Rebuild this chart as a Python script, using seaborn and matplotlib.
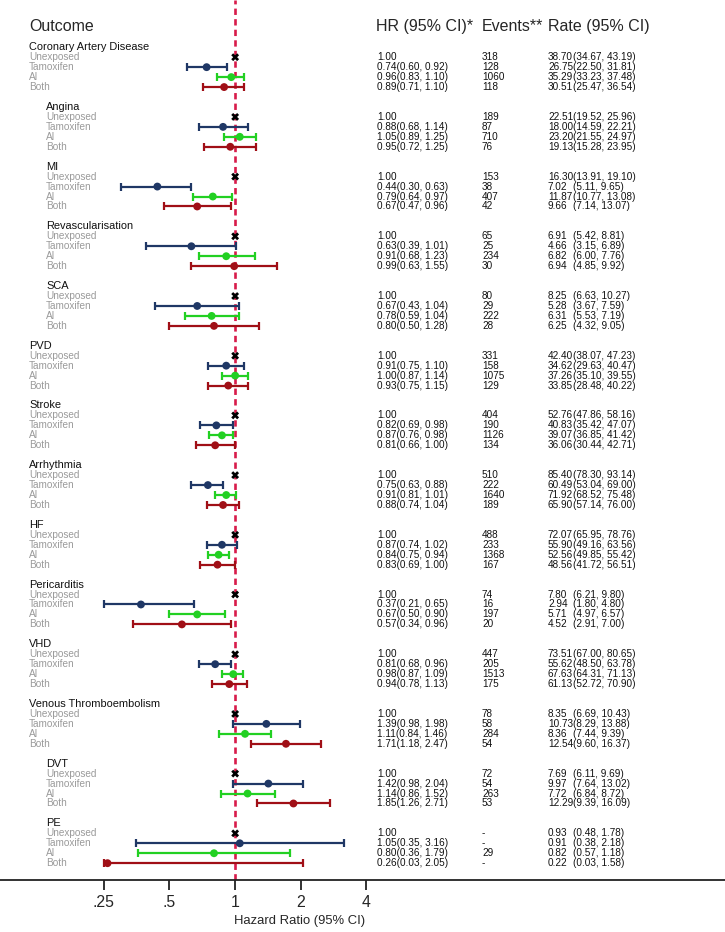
import numpy as np
import pandas as pd
import matplotlib
matplotlib.use("Agg")
import matplotlib.pyplot as plt
import matplotlib.transforms as mtransforms
from matplotlib.ticker import NullLocator
import seaborn as sns

# ---- data ----
outcomes = ["Coronary Artery Disease", "Angina", "MI", "Revascularisation", "SCA",
            "PVD", "Stroke", "Arrhythmia", "HF", "Pericarditis", "VHD",
            "Venous Thromboembolism", "DVT", "PE"]
indent = [0, 1, 1, 1, 1, 0, 0, 0, 0, 0, 0, 0, 1, 1]
exposures = ["Unexposed", "Tamoxifen", "AI", "Both"]

tam_hr = [0.74, 0.88, 0.44, 0.63, 0.67, 0.91, 0.82, 0.75, 0.87, 0.37, 0.81, 1.39, 1.42, 1.05]
tam_lo = [0.60, 0.68, 0.30, 0.39, 0.43, 0.75, 0.69, 0.63, 0.74, 0.21, 0.68, 0.98, 0.98, 0.35]
tam_hi = [0.92, 1.14, 0.63, 1.01, 1.04, 1.10, 0.98, 0.88, 1.02, 0.65, 0.96, 1.98, 2.04, 3.16]

ai_hr = [0.96, 1.05, 0.79, 0.91, 0.78, 1.00, 0.87, 0.91, 0.84, 0.67, 0.98, 1.11, 1.14, 0.80]
ai_lo = [0.83, 0.89, 0.64, 0.68, 0.59, 0.87, 0.76, 0.81, 0.75, 0.50, 0.87, 0.84, 0.86, 0.36]
ai_hi = [1.10, 1.25, 0.97, 1.23, 1.04, 1.14, 0.98, 1.01, 0.94, 0.90, 1.09, 1.46, 1.52, 1.79]

both_hr = [0.89, 0.95, 0.67, 0.99, 0.80, 0.93, 0.81, 0.88, 0.83, 0.57, 0.94, 1.71, 1.85, 0.26]
both_lo = [0.71, 0.72, 0.47, 0.63, 0.50, 0.75, 0.66, 0.74, 0.69, 0.34, 0.78, 1.18, 1.26, 0.03]
both_hi = [1.10, 1.25, 0.96, 1.55, 1.28, 1.15, 1.00, 1.04, 1.00, 0.96, 1.13, 2.47, 2.71, 2.05]

events_unexposed = ["318", "189", "153", "65", "80", "331", "404", "510", "488", "74", "447", "78", "72", "-"]
events_tam = ["128", "87", "38", "25", "29", "158", "190", "222", "233", "16", "205", "58", "54", "-"]
events_ai = ["1060", "710", "407", "234", "222", "1075", "1126", "1640", "1368", "197", "1513", "284", "263", "29"]
events_both = ["118", "76", "42", "30", "28", "129", "134", "189", "167", "20", "175", "54", "53", "-"]

rate_unexposed = [(38.70, 34.67, 43.19), (22.51, 19.52, 25.96), (16.30, 13.91, 19.10),
                  (6.91, 5.42, 8.81), (8.25, 6.63, 10.27), (42.40, 38.07, 47.23),
                  (52.76, 47.86, 58.16), (85.40, 78.30, 93.14), (72.07, 65.95, 78.76),
                  (7.80, 6.21, 9.80), (73.51, 67.00, 80.65), (8.35, 6.69, 10.43),
                  (7.69, 6.11, 9.69), (0.93, 0.48, 1.78)]
rate_tam = [(26.75, 22.50, 31.81), (18.00, 14.59, 22.21), (7.02, 5.11, 9.65),
            (4.66, 3.15, 6.89), (5.28, 3.67, 7.59), (34.62, 29.63, 40.47),
            (40.83, 35.42, 47.07), (60.49, 53.04, 69.00), (55.90, 49.16, 63.56),
            (2.94, 1.80, 4.80), (55.62, 48.50, 63.78), (10.73, 8.29, 13.88),
            (9.97, 7.64, 13.02), (0.91, 0.38, 2.18)]
rate_ai = [(35.29, 33.23, 37.48), (23.20, 21.55, 24.97), (11.87, 10.77, 13.08),
           (6.82, 6.00, 7.76), (6.31, 5.53, 7.19), (37.26, 35.10, 39.55),
           (39.07, 36.85, 41.42), (71.92, 68.52, 75.48), (52.56, 49.85, 55.42),
           (5.71, 4.97, 6.57), (67.63, 64.31, 71.13), (8.36, 7.44, 9.39),
           (7.72, 6.84, 8.72), (0.82, 0.57, 1.18)]
rate_both = [(30.51, 25.47, 36.54), (19.13, 15.28, 23.95), (9.66, 7.14, 13.07),
             (6.94, 4.85, 9.92), (6.25, 4.32, 9.05), (33.85, 28.48, 40.22),
             (36.06, 30.44, 42.71), (65.90, 57.14, 76.00), (48.56, 41.72, 56.51),
             (4.52, 2.91, 7.00), (61.13, 52.72, 70.90), (12.54, 9.60, 16.37),
             (12.29, 9.39, 16.09), (0.22, 0.03, 1.58)]

xticks = [0.25, 0.5, 1, 2, 4]
xtick_labels = [".25", ".5", "1", "2", "4"]

colors = {"Unexposed": "black", "Tamoxifen": "#1f3765", "AI": "#22d022", "Both": "#a00f16"}
markers = {"Unexposed": "X", "Tamoxifen": "o", "AI": "o", "Both": "o"}

# ---- long table ----
hr_cols = {"Unexposed": ([1.0] * 14, [np.nan] * 14, [np.nan] * 14),
           "Tamoxifen": (tam_hr, tam_lo, tam_hi),
           "AI": (ai_hr, ai_lo, ai_hi),
           "Both": (both_hr, both_lo, both_hi)}
ev_cols = {"Unexposed": events_unexposed, "Tamoxifen": events_tam, "AI": events_ai, "Both": events_both}
rate_cols = {"Unexposed": rate_unexposed, "Tamoxifen": rate_tam, "AI": rate_ai, "Both": rate_both}

records = []
for g, name in enumerate(outcomes):
    for e, exp in enumerate(exposures):
        hr, lo, hi = (hr_cols[exp][k][g] for k in range(3))
        records.append(dict(group=g, outcome=name, exposure=exp, row=6 * g + 1 + e,
                            hr=hr, lo=lo, hi=hi, events=ev_cols[exp][g],
                            rate=rate_cols[exp][g][0], rate_lo=rate_cols[exp][g][1],
                            rate_hi=rate_cols[exp][g][2]))
df = pd.DataFrame(records)
# CIs are cut at the axis range, as in the reference
df["lo_c"] = df["lo"].clip(lower=0.25)
df["hi_c"] = df["hi"].clip(upper=4)

# ---- figure ----
sns.set_style("white")
plt.rcParams["font.family"] = ["Liberation Sans", "DejaVu Sans"]

W, H = 725, 932
fig = plt.figure(figsize=(W / 100, H / 100), dpi=100)
ax = fig.add_axes([0, 52 / H, 1, 880 / H])
ax.set_xscale("log", base=2)
ax.set_xlim(0.0836, 175.9)
ax.set_ylim(83.69, -4.75)

ax.axvline(1, color="#d81b4a", lw=1.9, ls=(0, (2.4, 1.6)), zorder=1)

for exp in exposures[1:]:
    d = df[df.exposure == exp]
    ax.errorbar(d["hr"], d["row"], xerr=[d["hr"] - d["lo_c"], d["hi_c"] - d["hr"]],
                fmt="none", ecolor=colors[exp], elinewidth=1.6, capsize=3.2,
                capthick=1.6, zorder=2)

sns.scatterplot(data=df, x="hr", y="row", hue="exposure", style="exposure",
                palette=colors, markers=markers, s=32, linewidth=0,
                legend=False, ax=ax, zorder=3)

for s in ["left", "right", "top"]:
    ax.spines[s].set_visible(False)
ax.spines["bottom"].set_linewidth(1.3)
ax.spines["bottom"].set_color("#222222")
ax.set_xticks(xticks)
ax.set_xticklabels(xtick_labels)
ax.xaxis.set_minor_locator(NullLocator())
ax.set_yticks([])
ax.set_xlabel("")
ax.set_ylabel("")
ax.tick_params(axis="x", bottom=True, direction="out", length=7, width=1.3,
               color="#222222", labelsize=11.4, pad=4)

trans = mtransforms.blended_transform_factory(ax.transAxes, ax.transData)

def px(x):
    return x / W

hdr_fs = 11.5
ax.text(px(29), -2.05, "Outcome", transform=trans, fontsize=hdr_fs, va="center", ha="left")
ax.text(px(376), -2.05, "HR (95% CI)*", transform=trans, fontsize=hdr_fs, va="center", ha="left")
ax.text(px(482), -2.05, "Events**", transform=trans, fontsize=hdr_fs, va="center", ha="left")
ax.text(px(548), -2.05, "Rate (95% CI)", transform=trans, fontsize=hdr_fs, va="center", ha="left")

small = 7.2
for g, name in enumerate(outcomes):
    x0 = 29 if indent[g] == 0 else 46
    ax.text(px(x0), 6 * g, name, transform=trans, fontsize=7.9, color="#111111",
            va="center", ha="left")

for _, r in df.iterrows():
    x0 = 29 if indent[r.group] == 0 else 46
    ax.text(px(x0), r.row, r.exposure, transform=trans, fontsize=small,
            color="#9a9a9a", va="center", ha="left")
    if r.exposure == "Unexposed":
        hr_txt = "1.00"
    else:
        hr_txt = f"{r.hr:.2f}({r.lo:.2f}, {r.hi:.2f})"
    ax.text(px(377), r.row, hr_txt, transform=trans, fontsize=small, color="#111111",
            va="center", ha="left")
    ax.text(px(482), r.row, r.events, transform=trans, fontsize=small, color="#111111",
            va="center", ha="left")
    ax.text(px(548), r.row, f"{r.rate:.2f}", transform=trans, fontsize=small,
            color="#111111", va="center", ha="left")
    ax.text(px(573), r.row, f"({r.rate_lo:.2f}, {r.rate_hi:.2f})", transform=trans,
            fontsize=small, color="#111111", va="center", ha="left")

fig.text(300 / W, 1 - 921 / H, "Hazard Ratio (95% CI)", fontsize=9.4,
         ha="center", va="center")

fig.savefig("out.png", dpi=100)
